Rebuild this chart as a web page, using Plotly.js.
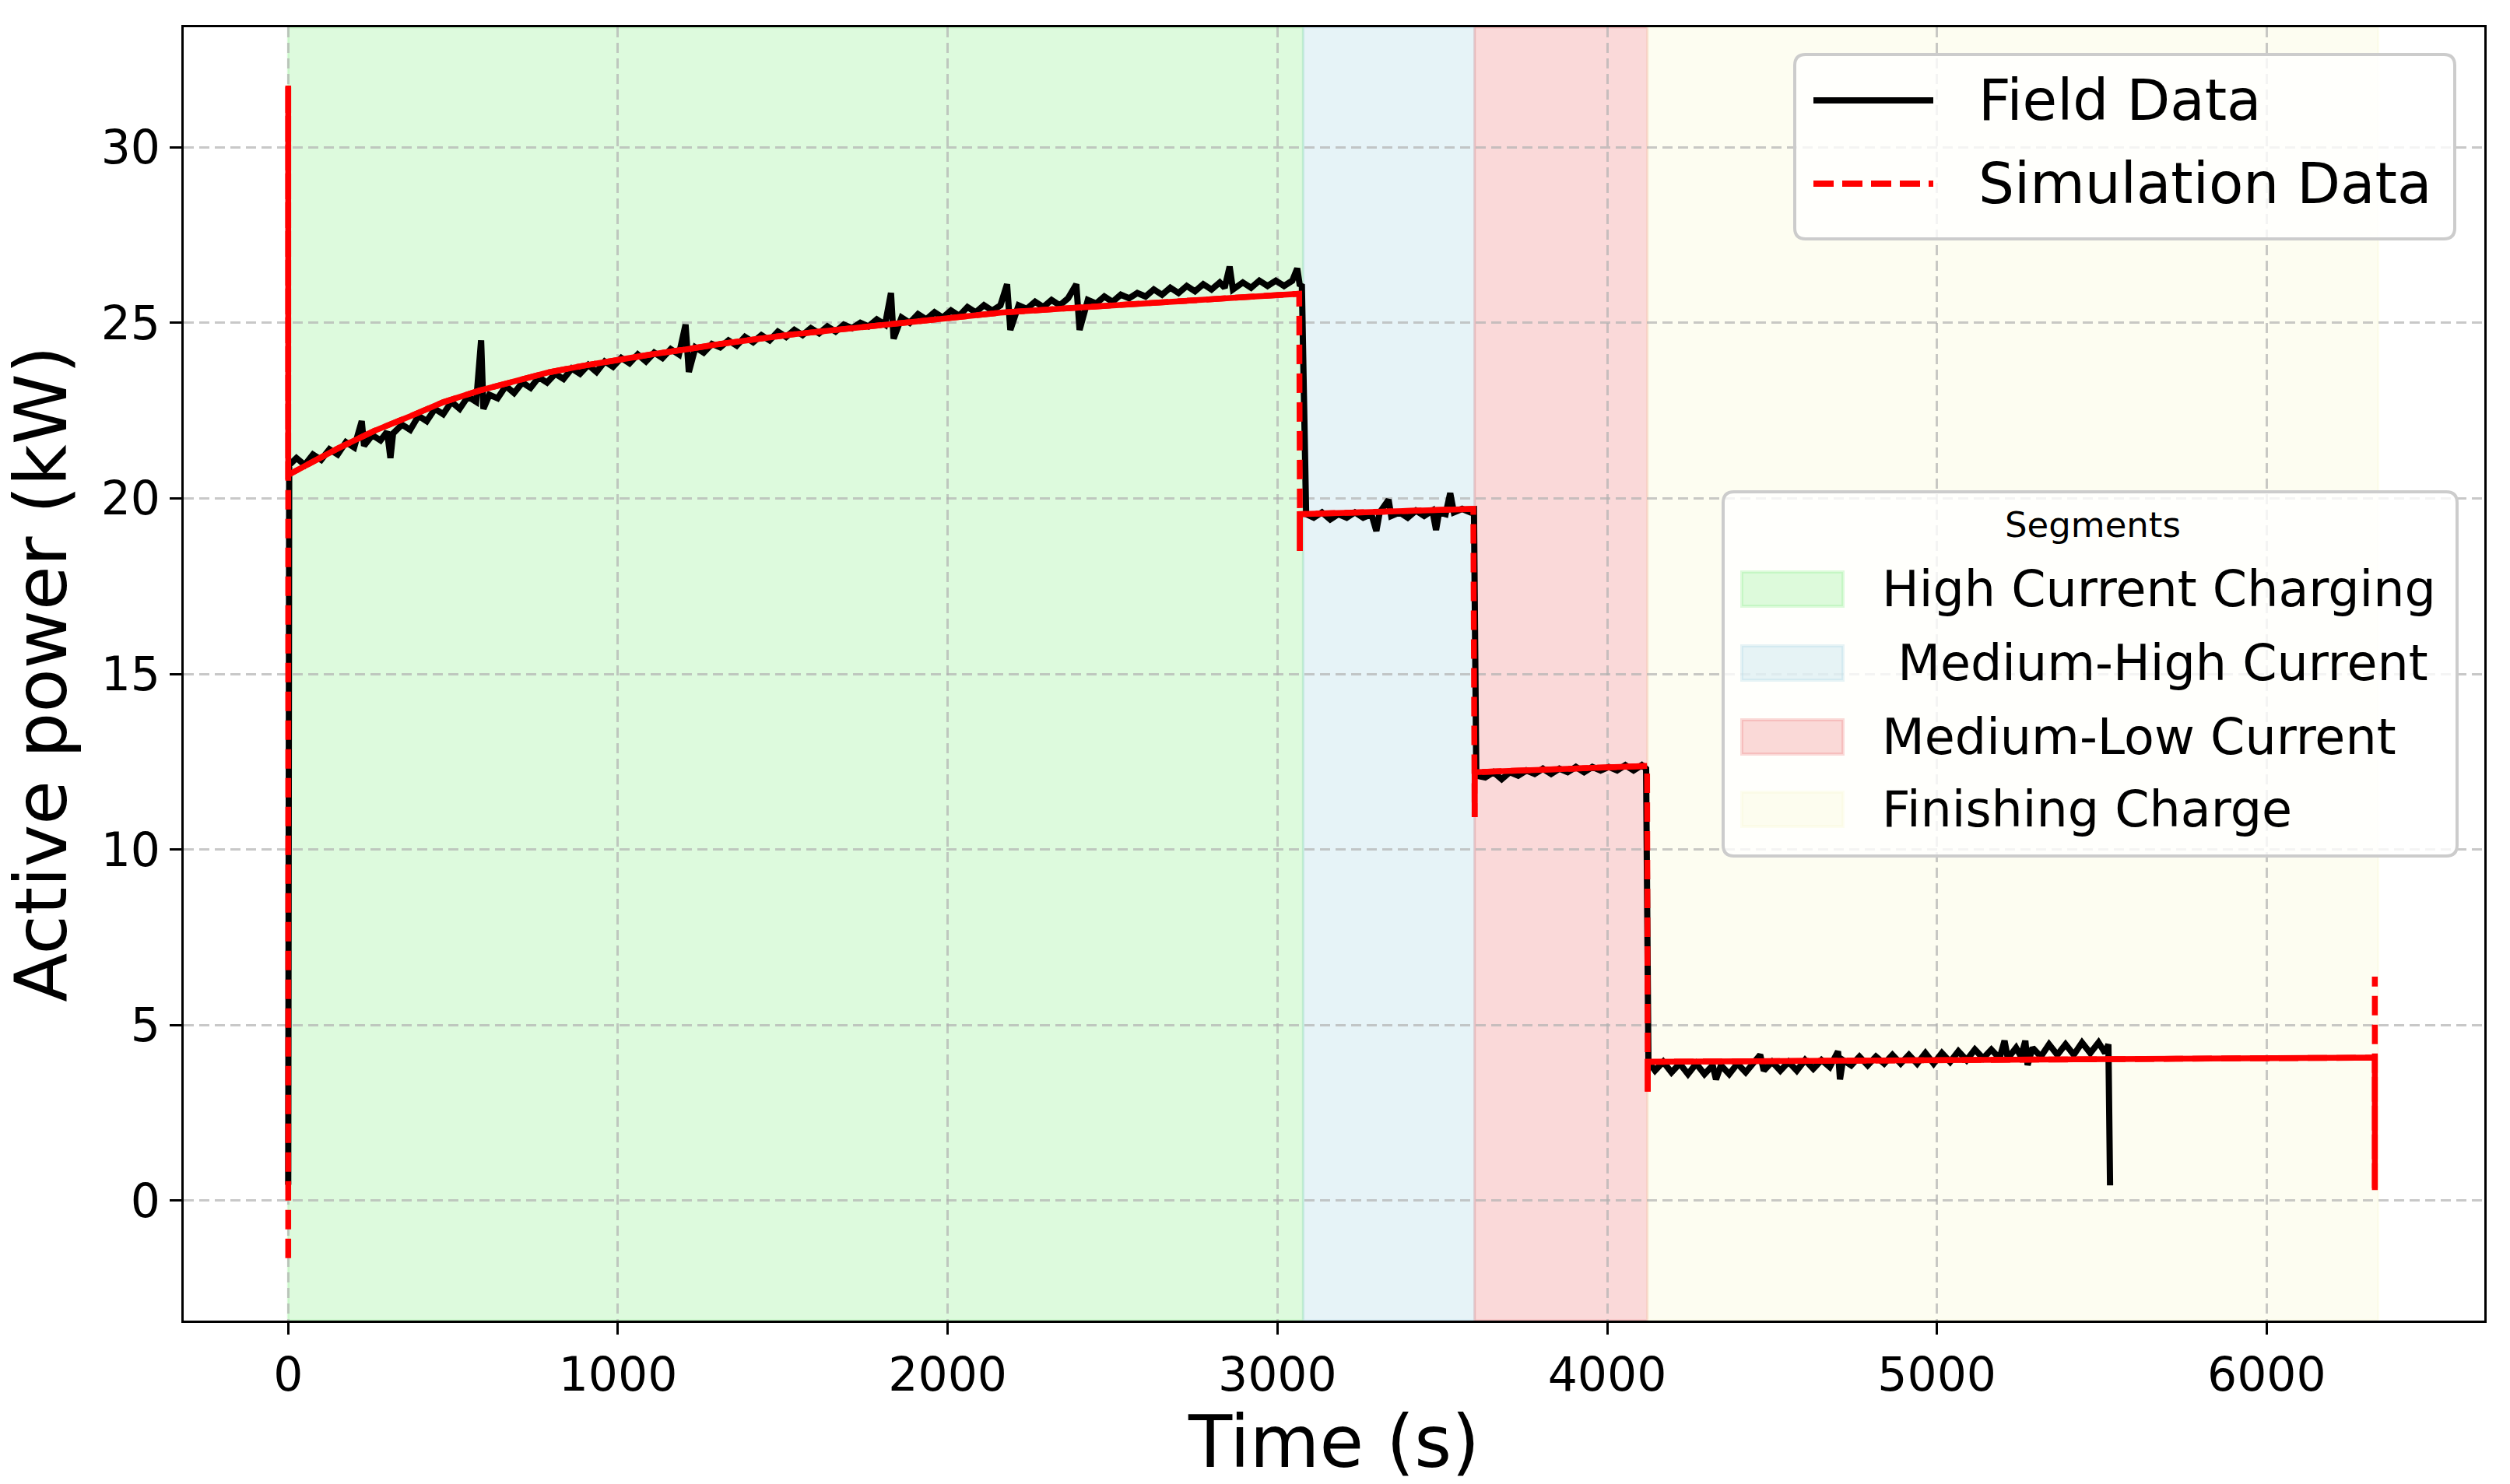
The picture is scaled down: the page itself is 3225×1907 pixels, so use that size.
<!DOCTYPE html>
<html>
<head>
<meta charset="utf-8">
<script src="https://cdn.plot.ly/plotly-3.0.1.min.js"></script>
<style>
  html, body { margin: 0; padding: 0; background: #fff; }
  #chart { width: 3225px; height: 1907px; }
</style>
</head>
<body>
<div id="chart"></div>
<script>
// charging segments (s)
var segEdges = [0, 3078, 3598, 4122, 6338];
var segNames = ['High Current Charging', '\u00a0Medium-High Current', 'Medium-Low Current', 'Finishing Charge'];
var segColors = ['rgba(144,238,144,0.3)', 'rgba(173,216,230,0.3)', 'rgba(240,128,128,0.3)', 'rgba(250,250,210,0.3)'];

var fieldT = [0, 3, 25, 50, 75, 100, 125, 150, 175, 200, 223, 230, 255, 280, 300, 310, 318, 345, 370, 395,
  420, 445, 470, 495, 520, 545, 570, 585, 592, 610, 635, 660, 685, 710, 735, 760, 785, 810, 835, 860,
  885, 910, 935, 960, 985, 1010, 1035, 1060, 1085, 1110, 1135, 1160, 1185, 1205, 1215, 1235, 1260, 1285, 1310, 1335,
  1360, 1385, 1410, 1435, 1460, 1485, 1510, 1535, 1560, 1585, 1610, 1635, 1660, 1685, 1710, 1735, 1760, 1785, 1810, 1828,
  1836, 1860, 1885, 1910, 1935, 1960, 1985, 2010, 2035, 2060, 2085, 2110, 2135, 2160, 2180, 2190, 2215, 2240, 2265, 2290,
  2315, 2340, 2365, 2390, 2400, 2425, 2450, 2475, 2500, 2525, 2550, 2575, 2600, 2625, 2650, 2675, 2700, 2725, 2750, 2775,
  2800, 2825, 2840, 2855, 2865, 2895, 2920, 2945, 2970, 2995, 3020, 3045, 3060, 3068, 3074, 3087,
  3110, 3135, 3160, 3185, 3210, 3235, 3260, 3285, 3300, 3310, 3337, 3345, 3370, 3395, 3420, 3445, 3470, 3481, 3490, 3510,
  3524, 3535, 3560, 3585, 3596, 3603,
  3630, 3655, 3680, 3705, 3730, 3755, 3780, 3805, 3830, 3855, 3880, 3905, 3930, 3955, 3980, 4005, 4030, 4055, 4080, 4105,
  4118, 4125,
  4145, 4170, 4195, 4220, 4245, 4270, 4295, 4320, 4330, 4345, 4370, 4395, 4420, 4445, 4464, 4475, 4500, 4525, 4550, 4575,
  4600, 4625, 4650, 4675, 4700, 4706, 4715, 4740, 4765, 4790, 4815, 4840, 4865, 4890, 4915, 4940, 4965, 4990, 5015, 5040,
  5065, 5090, 5115, 5140, 5165, 5190, 5205, 5215, 5240, 5255, 5268, 5275, 5290, 5315, 5340, 5365, 5390, 5415, 5440, 5465,
  5490, 5510, 5520, 5525];
var fieldP = [0.45, 20.95, 21.15, 20.95, 21.25, 21.1, 21.4, 21.25, 21.6, 21.45, 22.2, 21.5, 21.8, 21.65, 21.9, 21.15, 21.85, 22.1, 21.95, 22.35,
  22.2, 22.55, 22.4, 22.75, 22.55, 22.9, 22.75, 24.5, 22.55, 22.95, 22.85, 23.2, 23.0, 23.3, 23.15, 23.45, 23.3, 23.55, 23.4, 23.7,
  23.55, 23.8, 23.6, 23.9, 23.75, 24.0, 23.85, 24.1, 23.9, 24.15, 24.0, 24.25, 24.1, 24.95, 23.6, 24.3, 24.15, 24.4, 24.3, 24.5,
  24.35, 24.6, 24.45, 24.65, 24.5, 24.75, 24.6, 24.8, 24.65, 24.85, 24.7, 24.9, 24.75, 24.95, 24.85, 25.0, 24.9, 25.1, 24.95, 25.85,
  24.55, 25.15, 25.0, 25.25, 25.1, 25.3, 25.15, 25.35, 25.2, 25.45, 25.3, 25.5, 25.35, 25.5, 26.1, 24.8, 25.5, 25.4, 25.6, 25.45,
  25.65, 25.5, 25.7, 26.1, 24.8, 25.65, 25.55, 25.75, 25.6, 25.8, 25.7, 25.85, 25.75, 25.95, 25.8, 26.0, 25.85, 26.05, 25.9, 26.1,
  25.95, 26.15, 26.0, 26.6, 25.95, 26.15, 26.0, 26.2, 26.05, 26.2, 26.05, 26.2, 26.55, 26.05, 26.1, 19.55,
  19.45, 19.6, 19.4, 19.55, 19.45, 19.6, 19.45, 19.55, 19.07, 19.6, 19.96, 19.5, 19.6, 19.45, 19.65, 19.5, 19.65, 19.1, 19.6, 19.55,
  20.15, 19.6, 19.7, 19.6, 19.65, 12.1,
  12.05, 12.2, 12.0, 12.2, 12.1, 12.25, 12.15, 12.3, 12.15, 12.3, 12.2, 12.35, 12.2, 12.35, 12.25, 12.35, 12.25, 12.4, 12.25, 12.4,
  12.3, 3.95,
  3.7, 3.95, 3.65, 3.9, 3.6, 3.9, 3.6, 3.85, 3.45, 3.85, 3.6, 3.9, 3.65, 3.95, 4.15, 3.7, 3.95, 3.7, 3.95, 3.7,
  4.0, 3.75, 4.0, 3.8, 4.25, 3.45, 4.0, 3.85, 4.1, 3.85, 4.1, 3.9, 4.15, 3.9, 4.15, 3.9, 4.2, 3.9, 4.2, 3.95,
  4.25, 4.0, 4.3, 4.05, 4.3, 4.05, 4.55, 4.05, 4.35, 4.1, 4.55, 3.86, 4.35, 4.1, 4.45, 4.15, 4.45, 4.15, 4.5, 4.2,
  4.5, 4.2, 4.45, 0.43];

// simulation output; simSolid = 1 where the segment ending at that point reads as solid
var simT = [0, 0, 0, 150, 260, 370, 470, 580, 680, 790, 890, 1000, 1100, 1210, 1310, 1520, 1740, 1950, 2160, 2370,
  2580, 2790, 3066, 3068, 3068, 3068, 3594, 3598, 3598, 3598, 4121, 4123, 4123, 4123, 6328, 6328, 6328];
var simP = [-1.64, 31.76, 20.67, 21.42, 21.92, 22.34, 22.74, 23.07, 23.33, 23.59, 23.77, 23.96, 24.1, 24.25, 24.4, 24.66, 24.88, 25.1, 25.29, 25.42,
  25.54, 25.66, 25.83, 19.55, 18.5, 19.55, 19.7, 12.2, 10.92, 12.2, 12.38, 3.95, 3.1, 3.95, 4.07, 0.3, 6.38];
var simSolid = [0, 0, 1, 1, 1, 1, 1, 1, 1, 1, 1, 1, 1, 1, 1, 1, 1, 1, 1, 1,
  1, 1, 1, 0, 1, 1, 1, 0, 1, 1, 1, 0, 1, 1, 1, 1, 0];

var FONT = 'DejaVu Sans';
var W = 3225, H = 1907;
var M = {l: 236, r: 33, t: 35, b: 210};
function X(p) { return (p - M.l) / (W - M.l - M.r); }
function Y(p) { return (H - M.b - p) / (H - M.t - M.b); }

// solid overlay built from the sim path
var solidT = [], solidP = [];
for (var i = 1; i < simT.length; i++) {
  if (simSolid[i]) {
    if (!simSolid[i - 1] || i === 1) {
      if (solidT.length) { solidT.push(null); solidP.push(null); }
      solidT.push(simT[i - 1]); solidP.push(simP[i - 1]);
    }
    solidT.push(simT[i]); solidP.push(simP[i]);
  }
}

var field = {
  x: fieldT, y: fieldP, type: 'scatter', mode: 'lines', name: 'Field Data',
  line: {color: '#000', width: 8}, showlegend: false, hoverinfo: 'skip'
};
var sim = {
  x: simT, y: simP, type: 'scatter', mode: 'lines', name: 'Simulation Data',
  line: {color: '#ff0000', width: 7.5, dash: '25px,12px'}, showlegend: false, hoverinfo: 'skip'
};
var simDense = {
  x: solidT, y: solidP, type: 'scatter', mode: 'lines', connectgaps: false,
  line: {color: '#ff0000', width: 7.5}, showlegend: false, hoverinfo: 'skip'
};

function rrect(x0, y0, x1, y1, r) {
  var rx = r / (W - M.l - M.r), ry = r / (H - M.t - M.b);
  var a = X(x0), b = X(x1), c = Y(y0), d = Y(y1);
  return 'M' + (a + rx) + ',' + c + ' L' + (b - rx) + ',' + c + ' Q' + b + ',' + c + ' ' + b + ',' + (c - ry) +
    ' L' + b + ',' + (d + ry) + ' Q' + b + ',' + d + ' ' + (b - rx) + ',' + d +
    ' L' + (a + rx) + ',' + d + ' Q' + a + ',' + d + ' ' + a + ',' + (d + ry) +
    ' L' + a + ',' + (c - ry) + ' Q' + a + ',' + c + ' ' + (a + rx) + ',' + c + ' Z';
}

var shapes = [], annotations = [];
segNames.forEach(function (n, i) {
  shapes.push({type: 'rect', xref: 'x', yref: 'paper', x0: segEdges[i], x1: segEdges[i + 1], y0: 0, y1: 1,
    fillcolor: segColors[i], line: {color: segColors[i], width: 3}, layer: 'below'});
});

// legend: data series
shapes.push({type: 'path', xref: 'paper', yref: 'paper', path: rrect(2306, 70, 3154, 307, 14),
  fillcolor: 'rgba(255,255,255,0.8)', line: {color: '#cccccc', width: 4}, layer: 'above'});
var serNames = ['Field Data', 'Simulation Data'];
var serRows = [129, 236];
shapes.push({type: 'line', xref: 'paper', yref: 'paper', x0: X(2330), x1: X(2484), y0: Y(serRows[0]), y1: Y(serRows[0]),
  line: {color: '#000', width: 8}, layer: 'above'});
shapes.push({type: 'line', xref: 'paper', yref: 'paper', x0: X(2330), x1: X(2484), y0: Y(serRows[1]), y1: Y(serRows[1]),
  line: {color: '#ff0000', width: 8, dash: '26px,11px'}, layer: 'above'});
serNames.forEach(function (n, i) {
  annotations.push({xref: 'paper', yref: 'paper', x: X(2540), y: Y(serRows[i]), xanchor: 'left', yanchor: 'middle',
    text: n, showarrow: false, font: {family: FONT, size: 72.5, color: '#000'}});
});

// legend: segments
shapes.push({type: 'path', xref: 'paper', yref: 'paper', path: rrect(2214, 632, 3157, 1100, 14),
  fillcolor: 'rgba(255,255,255,0.8)', line: {color: '#cccccc', width: 4}, layer: 'above'});
annotations.push({xref: 'paper', yref: 'paper', x: X(2689), y: Y(675), xanchor: 'center', yanchor: 'middle',
  text: 'Segments', showarrow: false, font: {family: FONT, size: 45, color: '#000'}});
var segRows = [757, 852, 947, 1040];
segNames.forEach(function (n, i) {
  shapes.push({type: 'rect', xref: 'paper', yref: 'paper', x0: X(2238), x1: X(2368),
    y0: Y(segRows[i] + 22), y1: Y(segRows[i] - 22), fillcolor: segColors[i],
    line: {color: segColors[i], width: 4}, layer: 'above'});
  annotations.push({xref: 'paper', yref: 'paper', x: X(2416), y: Y(segRows[i]), xanchor: 'left', yanchor: 'middle',
    text: n, showarrow: false, font: {family: FONT, size: 63.5, color: '#000'}});
});

var axisCommon = {
  ticks: 'outside', ticklen: 15, tickwidth: 3, tickcolor: '#000',
  showline: true, mirror: true, linecolor: '#000', linewidth: 3,
  showgrid: true, gridcolor: 'rgba(176,176,176,0.7)', gridwidth: 3, griddash: '13px,7px',
  zeroline: false, automargin: false,
  tickfont: {family: FONT, size: 60, color: '#000'}
};

var layout = {
  width: W, height: H,
  margin: M,
  paper_bgcolor: '#fff', plot_bgcolor: '#fff',
  showlegend: false,
  xaxis: Object.assign({}, axisCommon, {
    range: [-317, 6660], tickmode: 'linear', tick0: 0, dtick: 1000,
    title: {text: 'Time (s)', font: {family: FONT, size: 92, color: '#000'}, standoff: 22}
  }),
  yaxis: Object.assign({}, axisCommon, {
    range: [-3.42, 33.42], tickmode: 'linear', tick0: 0, dtick: 5,
    title: {text: 'Active power (kW)', font: {family: FONT, size: 92, color: '#000'}, standoff: 30}
  }),
  shapes: shapes,
  annotations: annotations
};

Plotly.newPlot('chart', [field, sim, simDense], layout, {displayModeBar: false, staticPlot: true});
</script>
</body>
</html>
